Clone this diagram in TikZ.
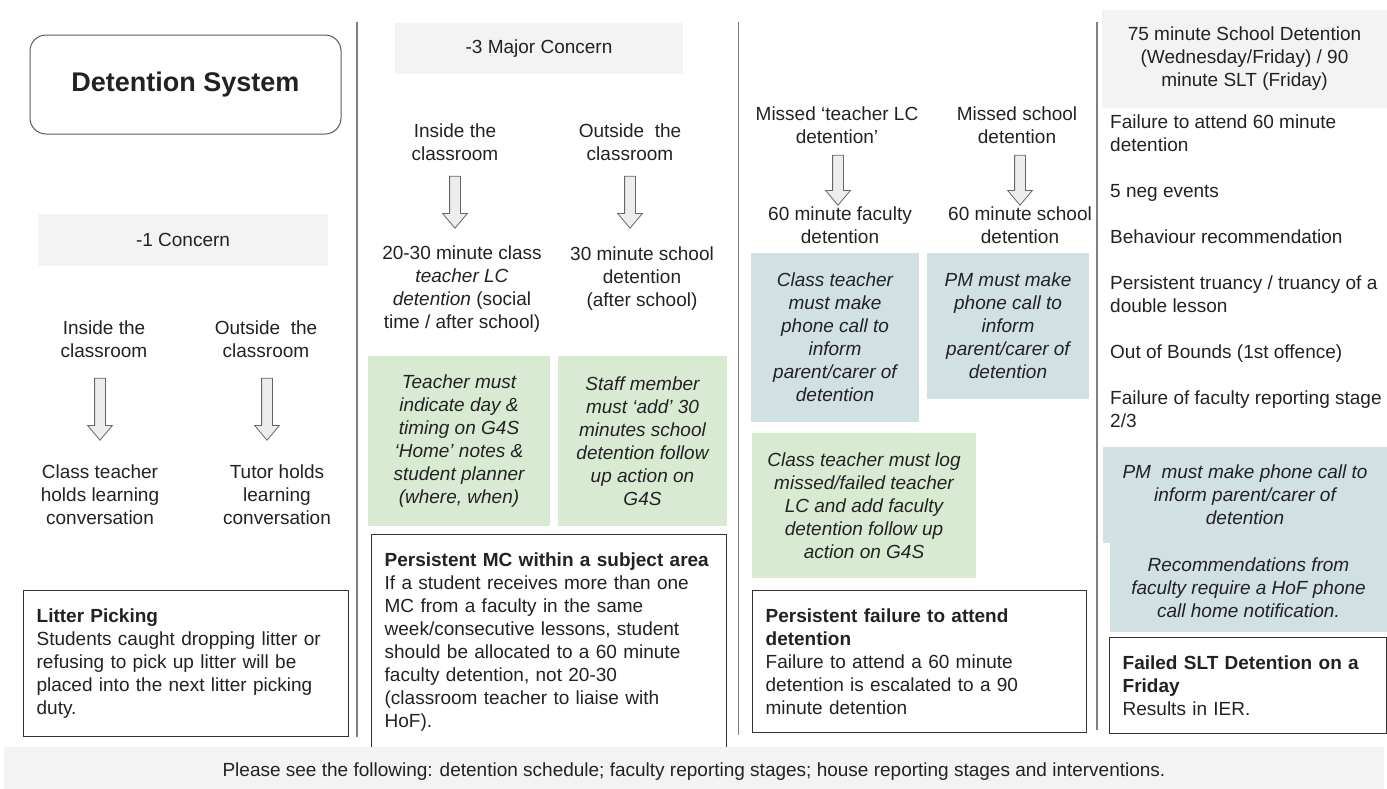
\documentclass[tikz,border=0pt]{standalone}
\usepackage{fontspec}
\setmainfont{Liberation Sans}
\usetikzlibrary{shapes.arrows}
\definecolor{bandgray}{HTML}{F3F3F3}
\definecolor{notegreen}{HTML}{D9EAD3}
\definecolor{noteblue}{HTML}{D0E0E3}
\definecolor{rulegray}{HTML}{7F7F7F}
\definecolor{inkgray}{HTML}{222222}

\begin{document}
\begin{tikzpicture}[x=1pt,y=-1pt,
  every node/.style={font=\fontsize{19}{23}\selectfont, text=inkgray, inner sep=0pt},
  txt/.style={align=center},
  band/.style={fill=bandgray, align=center},
  note/.style={align=center, font=\fontsize{19}{23}\selectfont\itshape},
  greennote/.style={note, fill=notegreen},
  bluenote/.style={note, fill=noteblue},
  rulebox/.style={draw=black!80, line width=1.3pt, fill=white, anchor=north west,
    align=left, inner xsep=13pt, inner ysep=18pt},
  downarrow/.style={single arrow, draw=black!60, fill=black!7, line width=0.8pt,
    shape border rotate=270, inner sep=5pt, single arrow head extend=7pt,
    single arrow head indent=0pt, single arrow tip angle=80}]

  \useasboundingbox (0,0) rectangle (1387,788);

  % column rules
  \draw[rulegray, line width=1.5pt] (357,22) -- (357,737);
  \draw[rulegray, line width=1.5pt] (738.5,22) -- (738.5,735);
  \draw[rulegray, line width=1.5pt] (1097,22) -- (1097,730);

  % -1 CONCERN
  \node[draw=black!65, line width=1pt, rounded corners=16pt, minimum width=311pt,
    minimum height=99pt, font=\fontsize{27}{32}\selectfont\bfseries] (DetSys) at (185.5,84.5) {Detention System};
  \node[band, minimum width=290pt, minimum height=52pt] (ConOne) at (183,240) {-1 Concern};
  \node[txt] (InOne) at (104,339.5) {Inside the\\classroom};
  \node[txt] (OutOne) at (266,339.5) {Outside~ the\\classroom};
  \node[downarrow, minimum height=62pt] (ArrOneA) at (100,406) {};
  \node[downarrow, minimum height=62pt] (ArrOneB) at (267,406) {};
  \node[txt] (LcOneA) at (100,495) {Class teacher\\holds learning\\conversation};
  \node[txt] (LcOneB) at (277,495) {Tutor holds\\learning\\conversation};
  \node[rulebox, text width=299pt] (Litter) at (23,590) {\textbf{Litter Picking}\\Students caught dropping litter or\\refusing to pick up litter will be\\placed into the next litter picking\\duty.};

  % -3 MAJOR CONCERN
  \node[band, minimum width=288pt, minimum height=51pt] (ConThree) at (539,48.5) {-3 Major Concern};
  \node[txt] (InTwo) at (455,142) {Inside the\\classroom};
  \node[txt] (OutTwo) at (630,142) {Outside~ the\\classroom};
  \node[downarrow, minimum height=52pt] (ArrTwoA) at (455,199) {};
  \node[downarrow, minimum height=52pt] (ArrTwoB) at (630,199) {};
  \node[txt] (LcTwo) at (462,289.5) {20-30 minute class\\\textit{teacher LC}\\\textit{detention} (social\\time / after school)};
  \node[txt] (SchTwo) at (642,278.5) {30 minute school\\detention\\(after school)};
  \node[greennote, minimum width=182pt, minimum height=170pt] (LogTwoA) at (459,441) {Teacher must\\indicate day \&\\timing on G4S\\`Home' notes \&\\student planner\\(where, when)};
  \node[greennote, minimum width=169pt, minimum height=170pt] (LogTwoB) at (642.5,441) {Staff member\\must `add' 30\\minutes school\\detention follow\\up action on\\G4S};
  \node[rulebox, text width=329pt] (PerMC) at (371,534) {\textbf{Persistent MC within a subject area}\\If a student receives more than one\\MC from a faculty in the same\\week/consecutive lessons, student\\should be allocated to a 60 minute\\faculty detention, not 20-30\\(classroom teacher to liaise with\\HoF).};

  % MISSED DETENTIONS
  \node[txt] (MissA) at (837,125) {Missed `teacher LC\\detention'};
  \node[txt] (MissB) at (1017,125) {Missed school\\detention};
  \node[downarrow, minimum height=50pt] (ArrThreeA) at (838,177) {};
  \node[downarrow, minimum height=50pt] (ArrThreeB) at (1020,177) {};
  \node[txt] (SixA) at (840,225) {60 minute faculty\\detention};
  \node[txt] (SixB) at (1020,225) {60 minute school\\detention};
  \node[bluenote, minimum width=168pt, minimum height=169pt] (CallA) at (835,337.5) {Class teacher\\must make\\phone call to\\inform\\parent/carer of\\detention};
  \node[bluenote, minimum width=162pt, minimum height=146pt] (CallB) at (1008,326) {PM must make\\phone call to\\inform\\parent/carer of\\detention};
  \node[greennote, minimum width=224pt, minimum height=145pt] (LogThree) at (864,505.5) {Class teacher must log\\missed/failed teacher\\LC and add faculty\\detention follow up\\action on G4S};
  \node[rulebox, text width=308pt] (PerFail) at (752,590) {\textbf{Persistent failure to attend}\\\textbf{detention}\\Failure to attend a 60 minute\\detention is escalated to a 90\\minute detention};

  % SLT DETENTION
  \node[band, minimum width=285pt, minimum height=98pt] (SltBand) at (1244.5,59) {75 minute School Detention\\(Wednesday/Friday) / 90\\minute SLT (Friday)};
  \node[anchor=north west, align=left] (Reasons) at (1110,115) {Failure to attend 60 minute\\detention\\[23pt]5 neg events\\[23pt]Behaviour recommendation\\[23pt]Persistent truancy / truancy of a\\double lesson\\[23pt]Out of Bounds (1st offence)\\[23pt]Failure of faculty reporting stage\\2/3};
  \node[bluenote, minimum width=284pt, minimum height=96pt] (CallC) at (1245,495) {PM~ must make phone call to\\inform parent/carer of\\detention};
  \node[bluenote, minimum width=277pt, minimum height=89pt] (HofCall) at (1248.5,587.5) {Recommendations from\\faculty require a HoF phone\\call home notification.};
  \node[rulebox, text width=251pt] (FailSlt) at (1109,637) {\textbf{Failed SLT Detention on a}\\\textbf{Friday}\\Results in IER.};

  % footer
  \node[band, minimum width=1380pt, minimum height=50pt] (Footer) at (694,772) {Please see the following: detention schedule; faculty reporting stages; house reporting stages and interventions.};
\end{tikzpicture}
\end{document}
